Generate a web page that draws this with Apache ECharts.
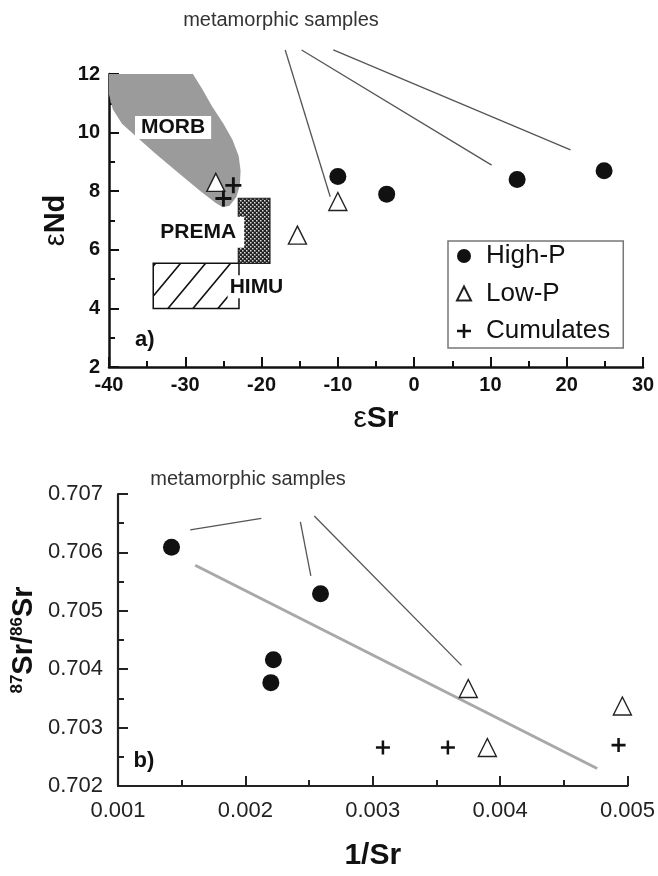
<!DOCTYPE html>
<html>
<head>
<meta charset="utf-8">
<script src="https://cdn.jsdelivr.net/npm/echarts@6/dist/echarts.min.js"></script>
<style>
  html, body { margin: 0; padding: 0; background: #fff; }
  #chartA { width: 658px; height: 440px; }
  #chartB { width: 658px; height: 436px; }
</style>
</head>
<body>
<div id="chartA"></div>
<div id="chartB"></div>
<script>
// panel a) εSr vs εNd
const highP_eSr = [-10, -3.6, 13.5, 24.9];
const highP_eNd = [8.5, 7.9, 8.4, 8.7];
const lowP_eSr = [-26, -15.3, -10];
const lowP_eNd = [8.3, 6.5, 7.65];
const cum_eSr = [-23.7, -25];
const cum_eNd = [8.2, 7.75];

// panel b) 1/Sr vs 87Sr/86Sr
const highP_invSr = [0.00142, 0.00259, 0.00222, 0.0022];
const highP_ratio = [0.70609, 0.70529, 0.70416, 0.70377];
const lowP_invSr = [0.00375, 0.00496, 0.0039];
const lowP_ratio = [0.70367, 0.70337, 0.70266];
const cum_invSr = [0.00308, 0.00359, 0.00493];
const cum_ratio = [0.70266, 0.70266, 0.7027];
const trend_invSr = [0.001606, 0.004762];
const trend_ratio = [0.70578, 0.70230];

// reservoir fields (data coords)
const morbPoly = [[-40, 12], [-29.0, 12], [-27.8, 11.5], [-26.5, 10.9], [-25, 10.3], [-23.8, 9.75],
  [-23.0, 9.2], [-22.75, 8.7], [-22.85, 8.2], [-23.3, 7.8], [-24.2, 7.5], [-25.1, 7.45], [-26, 7.6],
  [-28, 8.0], [-31, 8.65], [-34, 9.3], [-36.4, 9.86], [-38.3, 10.3], [-39.5, 10.8], [-40, 11.3]];
const premaBox = [-23.05, 5.54, -18.9, 7.76];
const himuBox = [-34.2, 4.0, -22.96, 5.54];

// annotation leader lines
const leadTop = [
  [[-16.9, 12.82], [-11.0, 7.81]],
  [[-14.75, 12.82], [10.16, 8.89]],
  [[-10.6, 12.82], [20.5, 9.41]],
];
const leadBottom = [
  [[0.001567, 0.706386], [0.002125, 0.706583]],
  [[0.002432, 0.706521], [0.002514, 0.7056]],
  [[0.002541, 0.706622], [0.003697, 0.704066]],
];

const FONT = '"Liberation Sans", Arial, Helvetica, sans-serif';
const zip = (xs, ys) => xs.map((x, i) => [x, ys[i]]);
const plusPath = 'path://M4.1,0H5.9V4.1H10V5.9H5.9V10H4.1V5.9H0V4.1H4.1Z';

const stipple = (() => {
  const c = document.createElement('canvas');
  c.width = 4; c.height = 4;
  const g = c.getContext('2d');
  g.fillStyle = '#222'; g.fillRect(0, 0, 4, 4);
  g.fillStyle = '#ddd'; g.fillRect(0, 0, 1.5, 1.5); g.fillRect(2, 2, 1.5, 1.5);
  return c;
})();
const hatch = (() => {
  const c = document.createElement('canvas');
  c.width = 25; c.height = 30;
  const g = c.getContext('2d');
  g.fillStyle = '#fff'; g.fillRect(0, 0, 25, 30);
  g.strokeStyle = '#111'; g.lineWidth = 1.6;
  g.beginPath();
  g.moveTo(-2.5, 33); g.lineTo(27.5, -3);
  g.moveTo(-2.5, 3); g.lineTo(2.5, -3);
  g.moveTo(22.5, 33); g.lineTo(27.5, 27);
  g.stroke();
  return c;
})();

const txt = (api, pos, text, size, extra) => {
  const p = api.coord(pos);
  return { type: 'text', style: Object.assign({ text, x: p[0], y: p[1], align: 'center', verticalAlign: 'middle',
    font: `bold ${size}px ${FONT}`, fill: '#111' }, extra || {}) };
};
const boxRect = (api, b) => {
  const p0 = api.coord([b[0], b[3]]);
  const p1 = api.coord([b[2], b[1]]);
  return { x: p0[0], y: p0[1], width: p1[0] - p0[0], height: p1[1] - p0[1] };
};

const renderTop = (params, api) => ({
  type: 'group',
  children: [
    { type: 'polygon', shape: { points: morbPoly.map((p) => api.coord(p)) }, style: { fill: '#9b9b9b' } },
    { type: 'rect', shape: boxRect(api, premaBox), style: { fill: { image: stipple, repeat: 'repeat' }, stroke: '#222', lineWidth: 1.2 } },
    { type: 'rect', shape: boxRect(api, himuBox), style: { fill: { image: hatch, repeat: 'repeat' }, stroke: '#111', lineWidth: 1.5 } },
    txt(api, [-31.6, 10.17], 'MORB', 21, { backgroundColor: '#fff', padding: [1, 6] }),
    txt(api, [-28.3, 6.6], 'PREMA', 21, { backgroundColor: '#fff', padding: [5, 8] }),
    txt(api, [-20.67, 4.74], 'HIMU', 21, { backgroundColor: '#fff', padding: [1, 2] }),
    txt(api, [-35.3, 2.92], 'a)', 22),
    txt(api, [-17.46, 13.84], 'metamorphic samples', 20, { font: `20px ${FONT}`, fill: '#333' }),
  ],
});
const renderBottom = (params, api) => ({
  type: 'group',
  children: [
    txt(api, [0.001203, 0.702435], 'b)', 22),
    txt(api, [0.002021, 0.70724], 'metamorphic samples', 20, { font: `20px ${FONT}`, fill: '#333' }),
  ],
});

// fresh objects per axis
const axisParts = (color, width) => ({
  type: 'value',
  nameLocation: 'middle',
  nameMoveOverlap: false,
  axisLine: { show: true, onZero: false, lineStyle: { color, width } },
  axisTick: { show: true, inside: true, length: 10, lineStyle: { color, width: 2 } },
  minorTick: { show: true, splitNumber: 2, length: 6, lineStyle: { color, width: 2 } },
  splitLine: { show: false },
});
const leadSeries = (segs) => segs.map((seg) => ({
  type: 'line', data: seg, symbol: 'none', clip: false, silent: true,
  lineStyle: { color: '#555', width: 1.3 }, z: 2,
}));
const markerSeries = (hp, lp, cu, sizes) => [
  { type: 'scatter', name: 'High-P', data: hp, symbol: 'circle',
    symbolSize: sizes[0], itemStyle: { color: '#111', opacity: 1 }, z: 4 },
  { type: 'scatter', name: 'Low-P', data: lp, symbol: 'triangle',
    symbolSize: sizes[1], itemStyle: { color: '#fff', borderColor: '#222', borderWidth: 1.4, opacity: 1 }, z: 4 },
  { type: 'scatter', name: 'Cumulates', data: cu, symbol: plusPath,
    symbolSize: sizes[2], itemStyle: { color: '#111', opacity: 1 }, z: 4 },
];

const chartA = echarts.init(document.getElementById('chartA'));
chartA.setOption({
  animation: false,
  backgroundColor: '#fff',
  textStyle: { fontFamily: FONT },
  grid: { left: 109, top: 74, width: 534, height: 293 },
  legend: {
    left: 448, top: 241, orient: 'vertical', selectedMode: false,
    data: ['High-P', 'Low-P', 'Cumulates'],
    itemWidth: 14, itemHeight: 14, itemGap: 11.5,
    padding: [2, 13, 4, 8],
    borderColor: '#777', borderWidth: 1.5,
    textStyle: { fontSize: 26, color: '#111', lineHeight: 26, padding: [0, 0, 0, 10] },
  },
  xAxis: Object.assign(axisParts('#111', 2.5), {
    min: -40, max: 30, interval: 10,
    axisLabel: { color: '#111', fontSize: 20, fontWeight: 'bold', margin: 8 },
    name: '{e|ε}Sr', nameGap: 37,
    nameTextStyle: { color: '#111', fontSize: 30, fontWeight: 'bold', rich: { e: { fontSize: 30, fontWeight: 'normal' } } },
  }),
  yAxis: Object.assign(axisParts('#111', 2.5), {
    min: 2, max: 12, interval: 2,
    axisLabel: { color: '#111', fontSize: 20, fontWeight: 'bold', margin: 9 },
    name: '{e|ε}Nd', nameGap: 39,
    nameTextStyle: { color: '#111', fontSize: 29, fontWeight: 'bold', rich: { e: { fontSize: 29, fontWeight: 'normal' } } },
  }),
  series: [
    { type: 'custom', data: [[0, 0]], renderItem: renderTop, silent: true, z: 1 },
    ...leadSeries(leadTop),
    ...markerSeries(zip(highP_eSr, highP_eNd), zip(lowP_eSr, lowP_eNd), zip(cum_eSr, cum_eNd), [17, 18, 16]),
  ],
});

const chartB = echarts.init(document.getElementById('chartB'));
chartB.setOption({
  animation: false,
  backgroundColor: '#fff',
  textStyle: { fontFamily: FONT },
  grid: { left: 118, top: 54, width: 515, height: 296 },
  xAxis: Object.assign(axisParts('#222', 2.2), {
    min: 0.001, max: 0.005, interval: 0.001,
    axisLabel: { color: '#222', fontSize: 22, margin: 14, formatter: (v) => v.toFixed(3) },
    name: '1/Sr', nameGap: 55,
    nameTextStyle: { color: '#111', fontSize: 30, fontWeight: 'bold' },
  }),
  yAxis: Object.assign(axisParts('#222', 2.2), {
    min: 0.702, max: 0.707, interval: 0.001,
    axisLabel: { color: '#222', fontSize: 22, margin: 15, formatter: (v) => v.toFixed(3) },
    name: '{s|87}Sr/{s|86}Sr', nameGap: 80,
    nameTextStyle: { color: '#111', fontSize: 29, fontWeight: 'bold',
      rich: { s: { fontSize: 17, fontWeight: 'bold', verticalAlign: 'top', lineHeight: 17 } } },
  }),
  series: [
    { type: 'custom', data: [[0.003, 0.704]], renderItem: renderBottom, silent: true, z: 1 },
    ...leadSeries(leadBottom),
    { type: 'line', data: zip(trend_invSr, trend_ratio), symbol: 'none', silent: true,
      lineStyle: { color: '#a8a8a8', width: 3 }, z: 2 },
    ...markerSeries(zip(highP_invSr, highP_ratio), zip(lowP_invSr, lowP_ratio), zip(cum_invSr, cum_ratio), [17, 18, 14]),
  ],
});
</script>
</body>
</html>
